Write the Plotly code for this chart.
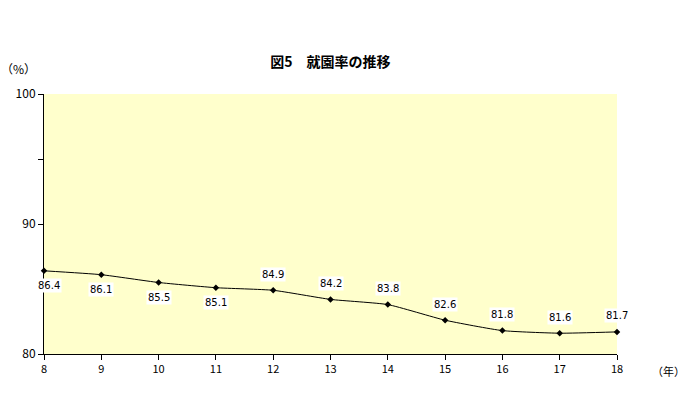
import plotly.graph_objects as go

years = [8, 9, 10, 11, 12, 13, 14, 15, 16, 17, 18]
rates = [86.4, 86.1, 85.5, 85.1, 84.9, 84.2, 83.8, 82.6, 81.8, 81.6, 81.7]
label_pos = ["below", "below", "below", "below", "above", "above", "above", "above", "above", "above", "above"]
title_text = "図5　就園率の推移"

font_fam = "Noto Sans CJK JP, DejaVu Sans, sans-serif"

fig = go.Figure()
fig.add_trace(go.Scatter(
    x=years, y=rates, mode="lines+markers",
    line=dict(color="black", width=1, shape="spline", smoothing=0.5),
    marker=dict(symbol="diamond", size=5, color="black"),
    hoverinfo="skip", cliponaxis=False,
))

for x, y, p in zip(years, rates, label_pos):
    fig.add_annotation(
        x=x, y=y, xref="x", yref="y", text=f"{y:.1f}", showarrow=False,
        yshift=-15 if p == "below" else 16,
        xshift=5 if x == 8 else 0,
        bgcolor="white", font=dict(size=10, color="black", family="DejaVu Sans"),
        borderpad=1,
    )

fig.update_layout(
    width=684, height=399,
    margin=dict(l=44, r=67, t=94, b=45),
    paper_bgcolor="white", plot_bgcolor="#FFFFCC",
    showlegend=False,
    title=dict(text=f"<b>{title_text}</b>", x=330.5 / 684, xanchor="center",
               y=1 - 62 / 399, yanchor="middle",
               font=dict(size=14, color="black", family=font_fam)),
    font=dict(family=font_fam, color="black", size=11),
)
fig.add_annotation(text="（%）", x=0.0, y=1.0, xref="paper", yref="paper",
                   xanchor="right", yanchor="bottom", xshift=-6, yshift=15,
                   showarrow=False, font=dict(size=12, family=font_fam))
fig.add_annotation(text="（年）", x=1.0, y=0.0, xref="paper", yref="paper",
                   xanchor="left", yanchor="top", xshift=33, yshift=-7,
                   showarrow=False, font=dict(size=11, family=font_fam))

fig.update_xaxes(range=[8, 18], tickmode="array", tickvals=years,
                 ticktext=[str(v) for v in years],
                 showgrid=False, zeroline=False, showline=True, linecolor="black", linewidth=1,
                 ticks="outside", ticklen=5, tickcolor="black", tickfont=dict(size=11))
fig.update_yaxes(range=[80, 100], tickvals=[80, 90, 100], showgrid=False, zeroline=False,
                 showline=True, linecolor="black", linewidth=1,
                 ticks="outside", ticklen=5, tickcolor="black", tickfont=dict(size=12),
                 minor=dict(tickvals=[85, 95], ticks="outside", ticklen=5, tickcolor="black"))

fig.write_html("out.html", config={"displayModeBar": False},
               post_script="document.body.style.margin='0';")
